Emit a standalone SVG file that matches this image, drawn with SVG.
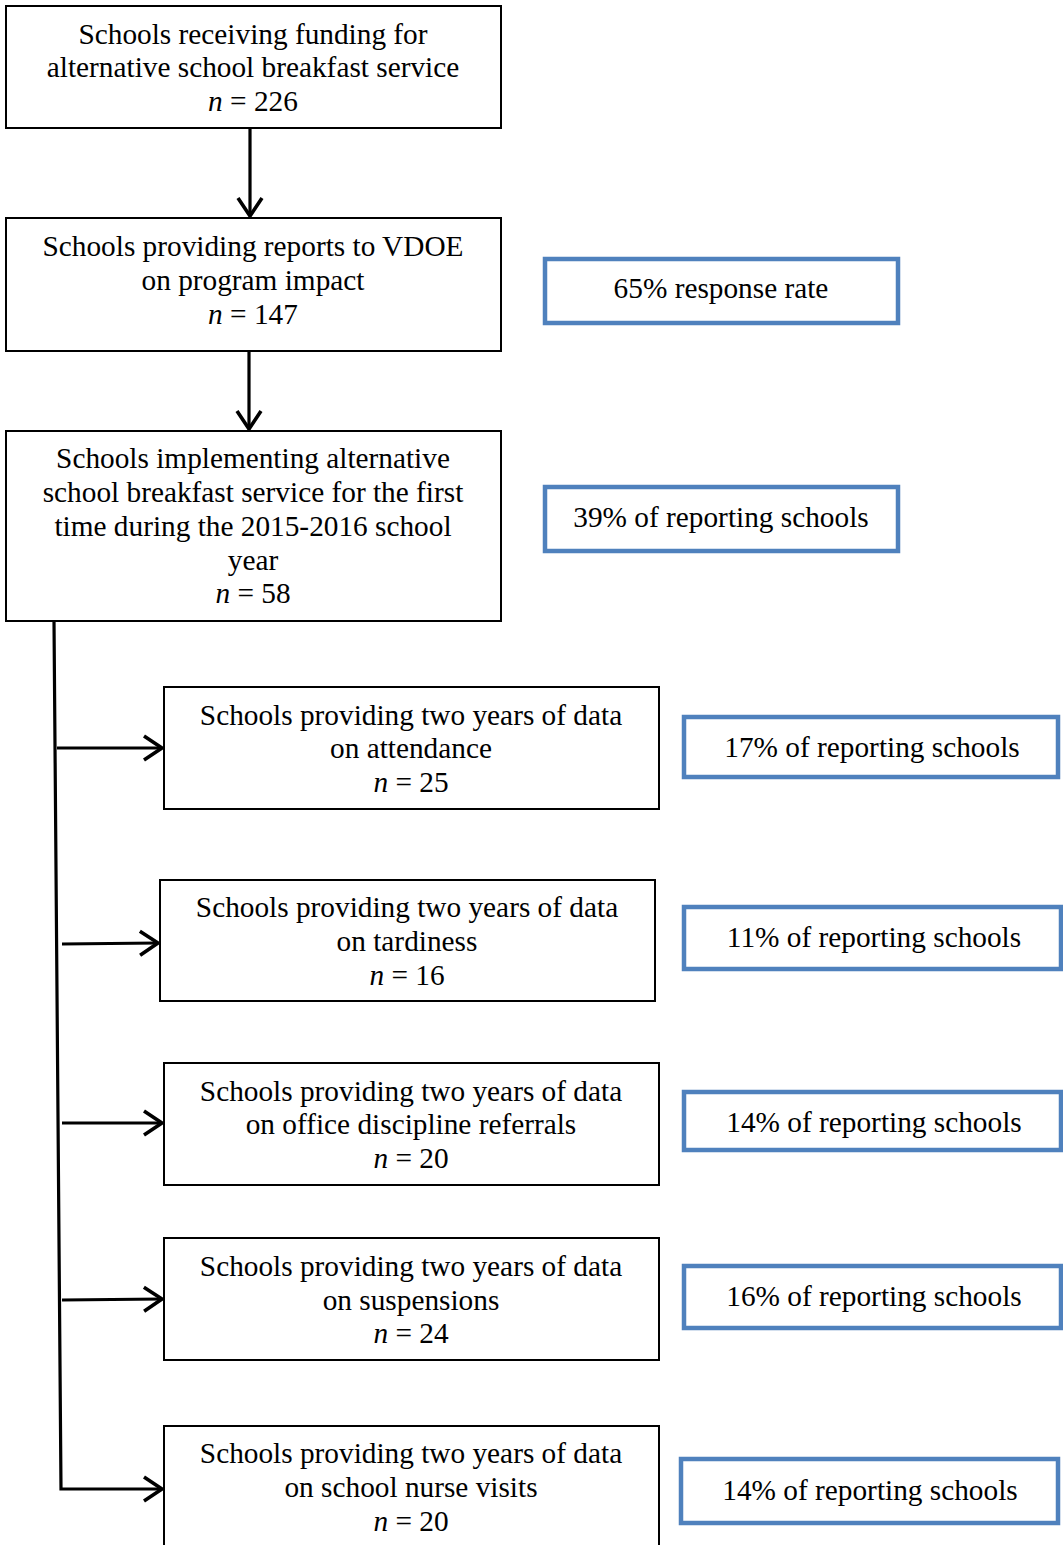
<svg xmlns="http://www.w3.org/2000/svg" width="1063" height="1545" viewBox="0 0 1063 1545">
<defs>
<style>
.box{fill:#fff;stroke:#000;stroke-width:2}
.blue{fill:#fff;stroke:#4F81BD;stroke-width:4.5}
text{font-family:"Liberation Serif","Times New Roman",serif;font-size:29.3px;fill:#000;text-anchor:middle}
.i{font-style:italic}
.ln{fill:none;stroke:#000;stroke-width:3.2}
</style>
<marker id="ah" markerWidth="26" markerHeight="32" refX="21" refY="16" orient="auto" markerUnits="userSpaceOnUse">
<path d="M3,4 L21,16 L3,28" fill="none" stroke="#000" stroke-width="3.6"/>
</marker>
</defs>
<rect width="1063" height="1545" fill="#fff"/>
<g id="connectors">
<line class="ln" x1="250" y1="128" x2="250" y2="216" marker-end="url(#ah)"/>
<line class="ln" x1="249" y1="351" x2="249" y2="429" marker-end="url(#ah)"/>
<polyline class="ln" points="54,621 61,1489 162,1489" marker-end="url(#ah)"/>
<line class="ln" x1="57" y1="748" x2="162" y2="748" marker-end="url(#ah)"/>
<line class="ln" x1="62" y1="944" x2="158" y2="943" marker-end="url(#ah)"/>
<line class="ln" x1="62" y1="1123" x2="162" y2="1123" marker-end="url(#ah)"/>
<line class="ln" x1="62" y1="1300" x2="162" y2="1299" marker-end="url(#ah)"/>
</g>
<g id="n1"><rect class="box" x="6" y="6" width="495" height="122"/>
<text x="253" y="44">Schools receiving funding for</text>
<text x="253" y="77">alternative school breakfast service</text>
<text x="253" y="111"><tspan class="i">n</tspan> = 226</text></g>
<g id="n2"><rect class="box" x="6" y="218" width="495" height="133"/>
<text x="253" y="256">Schools providing reports to VDOE</text>
<text x="253" y="290">on program impact</text>
<text x="253" y="324"><tspan class="i">n</tspan> = 147</text></g>
<g id="b1"><rect class="blue" x="545" y="259" width="353" height="64"/>
<text x="721" y="298">65% response rate</text></g>
<g id="n3"><rect class="box" x="6" y="431" width="495" height="190"/>
<text x="253" y="468">Schools implementing alternative</text>
<text x="253" y="502">school breakfast service for the first</text>
<text x="253" y="536">time during the 2015-2016 school</text>
<text x="253" y="570">year</text>
<text x="253" y="603"><tspan class="i">n</tspan> = 58</text></g>
<g id="b2"><rect class="blue" x="545" y="487" width="353" height="64"/>
<text x="721" y="527">39% of reporting schools</text></g>
<g id="n4"><rect class="box" x="164" y="687" width="495" height="122"/>
<text x="411" y="725">Schools providing two years of data</text>
<text x="411" y="758">on attendance</text>
<text x="411" y="792"><tspan class="i">n</tspan> = 25</text></g>
<g id="b3"><rect class="blue" x="684" y="717" width="374" height="60"/>
<text x="872" y="757">17% of reporting schools</text></g>
<g id="n5"><rect class="box" x="160" y="880" width="495" height="121"/>
<text x="407" y="917">Schools providing two years of data</text>
<text x="407" y="951">on tardiness</text>
<text x="407" y="985"><tspan class="i">n</tspan> = 16</text></g>
<g id="b4"><rect class="blue" x="684" y="907" width="377" height="62"/>
<text x="874" y="947">11% of reporting schools</text></g>
<g id="n6"><rect class="box" x="164" y="1063" width="495" height="122"/>
<text x="411" y="1101">Schools providing two years of data</text>
<text x="411" y="1134">on office discipline referrals</text>
<text x="411" y="1168"><tspan class="i">n</tspan> = 20</text></g>
<g id="b5"><rect class="blue" x="684" y="1092" width="377" height="58"/>
<text x="874" y="1132">14% of reporting schools</text></g>
<g id="n7"><rect class="box" x="164" y="1238" width="495" height="122"/>
<text x="411" y="1276">Schools providing two years of data</text>
<text x="411" y="1310">on suspensions</text>
<text x="411" y="1343"><tspan class="i">n</tspan> = 24</text></g>
<g id="b6"><rect class="blue" x="684" y="1266" width="377" height="62"/>
<text x="874" y="1306">16% of reporting schools</text></g>
<g id="n8"><rect class="box" x="164" y="1426" width="495" height="130"/>
<text x="411" y="1463">Schools providing two years of data</text>
<text x="411" y="1497">on school nurse visits</text>
<text x="411" y="1531"><tspan class="i">n</tspan> = 20</text></g>
<g id="b7"><rect class="blue" x="681" y="1459" width="377" height="64"/>
<text x="870" y="1500">14% of reporting schools</text></g>
</svg>
